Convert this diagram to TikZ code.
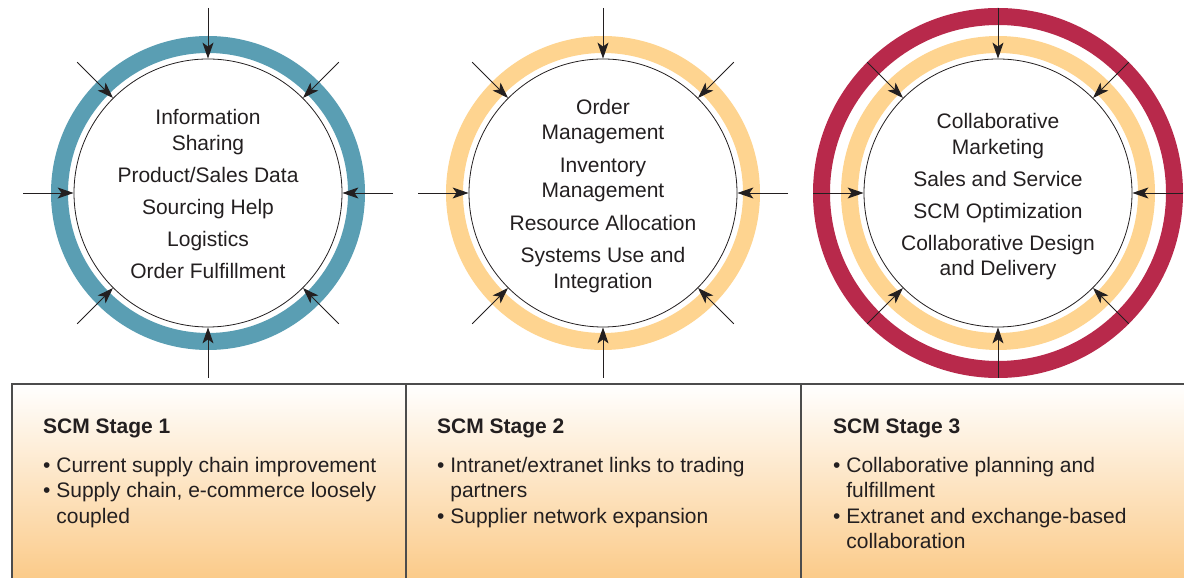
\documentclass[tikz,border=0pt]{standalone}
\usepackage{fontspec}
\setmainfont{Liberation Sans}
\usetikzlibrary{arrows.meta}

\definecolor{ringteal}{HTML}{5A9EB3}
\definecolor{ringgold}{HTML}{FED490}
\definecolor{ringred}{HTML}{B8294B}
\definecolor{stagegold}{HTML}{FBCB8A}
\definecolor{inkgray}{HTML}{231F20}

\tikzset{
  hub/.style={circle, draw=inkgray, line width=0.8pt, minimum size=268pt, inner sep=0pt},
  hubtext/.style={align=center, text=inkgray, inner sep=0pt, font=\fontsize{21}{25.5}\selectfont},
  feed/.style={-{Stealth[length=16pt,width=11pt,inset=4pt]}, line width=0.9pt, inkgray},
  ring/.style={line width=17pt},
  panel/.style={line width=1.3pt, gray!60!black},
  stagetext/.style={anchor=north west, inner sep=0pt, align=left, text=inkgray,
    font=\fontsize{21}{25.5}\selectfont},
}

\begin{document}
\begin{tikzpicture}[x=1pt,y=1pt]
\useasboundingbox (0,0) rectangle (1184,578);

% Stage panel
\shade[top color=white, bottom color=stagegold] (12,0) rectangle (1184,194);
\draw[panel] (12,0) -- (12,194) -- (1184,194);
\draw[panel] (406,0) -- (406,194);
\draw[panel] (801,0) -- (801,194);

% Rings
\draw[ring, ringteal] (208,385) circle (148.5pt);
\draw[ring, ringgold] (603,385) circle (148.5pt);
\draw[ring, ringgold] (998,385) circle (148.5pt);
\draw[ring, ringred] (998,385) circle (176.5pt);

% Hubs
\node[hub] (info) at (208,385) {};
\node[hub] (order) at (603,385) {};
\node[hub] (collab) at (998,385) {};

\node[hubtext] (infotext) at (208,384) {Information\\Sharing\\[6.5pt]Product/Sales Data\\[6.5pt]Sourcing Help\\[6.5pt]Logistics\\[6.5pt]Order Fulfillment};
\node[hubtext] (ordertext) at (603,382) {Order\\Management\\[7pt]Inventory\\Management\\[7pt]Resource Allocation\\[7pt]Systems Use and\\Integration};
\node[hubtext] (collabtext) at (998,381) {Collaborative\\Marketing\\[6.5pt]Sales and Service\\[6.5pt]SCM Optimization\\[6.5pt]Collaborative Design\\and Delivery};

% Arrows into each hub
\foreach \hubname in {info,order,collab}
  \foreach \ang in {0,45,...,315} {
    \path (\hubname.center) ++(\ang:185pt) coordinate (\hubname-\ang);
    \draw[feed] (\hubname-\ang) -- (\hubname.\ang);
  }

% Stage texts
\node[stagetext] (stageone) at (43,159.5) {\textbf{SCM Stage 1}\\[13.5pt]%
  • Current supply chain improvement\\
  • Supply chain, e-commerce loosely\\
  \phantom{• }coupled};
\node[stagetext] (stagetwo) at (437,159.5) {\textbf{SCM Stage 2}\\[13.5pt]%
  • Intranet/extranet links to trading\\
  \phantom{• }partners\\
  • Supplier network expansion};
\node[stagetext] (stagethree) at (833,159.5) {\textbf{SCM Stage 3}\\[13.5pt]%
  • Collaborative planning and\\
  \phantom{• }fulfillment\\
  • Extranet and exchange-based\\
  \phantom{• }collaboration};

\end{tikzpicture}
\end{document}
